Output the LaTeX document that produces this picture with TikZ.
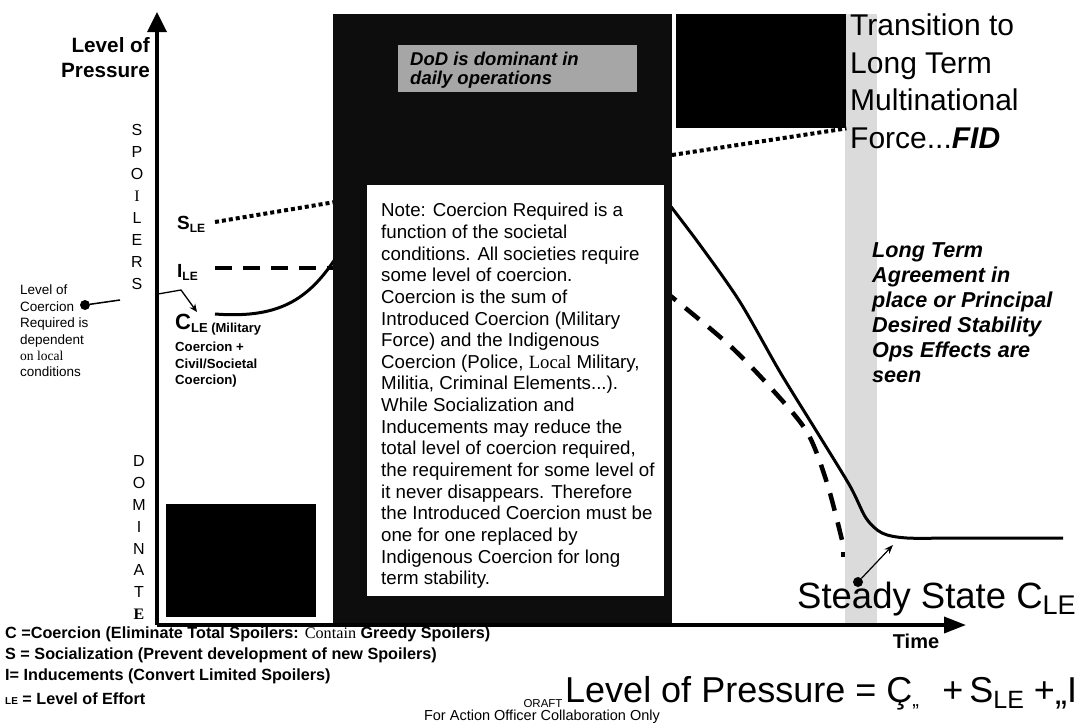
\documentclass[tikz,border=0pt]{standalone}
\usepackage{fontspec}
\setmainfont{Liberation Sans}
\newfontfamily\oldserif{Liberation Serif}
\usetikzlibrary{arrows.meta}
\begin{document}
\begin{tikzpicture}[x=1pt,y=-1pt]
        % Styles
        \tikzstyle{axes}=[line width=3.5pt]
        \tikzstyle{dark block}=[fill=black!95]
        \tikzstyle{coercion line}=[line width=3pt]
        \tikzstyle{inducement line}=[line width=4pt,dash pattern=on 17pt off 11pt]
        \tikzstyle{spoiler line}=[line width=4pt,dash pattern=on 4pt off 3pt]
        \tikzstyle{axis letter}=[inner sep=0pt,font=\fontsize{16}{16}\selectfont]
        \tikzstyle{legend text}=[anchor=west,inner sep=0pt,font=\fontsize{16.2}{16.2}\selectfont\bfseries]
        \tikzstyle{big text}=[inner sep=0pt,font=\fontsize{36.5}{36.5}\selectfont]
        \tikzstyle{marker dot}=[circle,fill=black,inner sep=0pt,minimum size=10pt]
        %The graphic
        \useasboundingbox (0,0) rectangle (1076,726);
        %stability band
        \fill[black!14] (845,14) rectangle (877,625);
        %pressure curves
        \draw[coercion line] (215,314) .. controls (282,319) and (312,298) .. (342,248);
        \draw[coercion line] plot[smooth,tension=0.5] coordinates {(662,195) (700,245) (740,302) (780,372) (817,432) (850,486) (866,518) (882,533) (907,538) (960,538) (1063,538)};
        \draw[line width=4.5pt,dash pattern=on 18pt off 12pt] plot[smooth,tension=0.5] coordinates {(662,289) (727,343) (770,387) (807,432) (827,483) (842,540)};
        \fill (841,552) rectangle (845,557);
        \coordinate (istart) at (215,268);
        \coordinate (iend) at (335,268);
        \draw[inducement line] (istart) -- (iend);
        \coordinate (sstart) at (215,222);
        \coordinate (send) at (335,202);
        \draw[spoiler line] (sstart) -- (send);
        %blocks
        \node[dark block,anchor=north west,inner sep=0pt,minimum width=339pt,minimum height=613pt] (dodzone) at (333,14) {};
        \node[fill=black,anchor=north west,inner sep=0pt,minimum width=170pt,minimum height=114pt] (fidbox) at (676,14) {};
        \node[fill=black,anchor=north west,inner sep=0pt,minimum width=150pt,minimum height=113pt] (dombox) at (166,504) {};
        \coordinate (sright) at (672,155);
        \draw[spoiler line] (sright) -- (fidbox.south east);
        \fill[black!35] (398,45) rectangle (637,92);
        \node[anchor=north west,inner sep=0pt,align=left,font=\fontsize{18.5}{18.5}\selectfont\bfseries\itshape] (dodtext) at (410,52) {DoD is dominant in\\daily operations};
        \fill[white] (367,185) rectangle (664,596);
        \node[anchor=north west,inner sep=0pt,align=left,font=\fontsize{18.7}{21.65}\selectfont] (note) at (381,203)
            {Note:  Coercion Required is a\\function of the societal\\conditions.   All societies require\\some level of coercion.\\Coercion is the sum of\\Introduced Coercion (Military\\Force) and the Indigenous\\Coercion (Police, {\oldserif Local} Military,\\Militia, Criminal Elements...).\\While Socialization and\\Inducements may reduce the\\total level of coercion required,\\the requirement for some level of\\it never disappears.  Therefore\\the Introduced Coercion must be\\one for one replaced by\\Indigenous Coercion for long\\term stability.};
        %axes
        \coordinate (origin) at (157,625);
        \coordinate (y axis) at (157,12);
        \coordinate (x axis) at (966,625);
        \draw[axes,-{Triangle[length=20pt,width=19pt]}] (origin) -- (y axis);
        \draw[axes,-{Triangle[length=22pt,width=16pt]}] (origin) -- (x axis);
        \node[anchor=north east,inner sep=0pt,align=right,font=\fontsize{20.7}{25}\selectfont\bfseries] (ylabel) at (150,37) {Level of\\Pressure};
        \node[font=\fontsize{20}{20}\selectfont\bfseries] (xlabel) at (916,641) {Time};
        \foreach \ch [count=\i] in {S,P,O,{\oldserif I},L,E,R,S}
            \node[axis letter] (sp\i) at (137,108+22*\i) {\ch};
        \foreach \ch [count=\i] in {D,O,M,I,N,A,T,{\oldserif\bfseries E}}
            \node[axis letter] (dom\i) at (139,439+21.9*\i) {\ch};
        %levels of effort
        \node[anchor=base west,inner sep=0pt,font=\fontsize{19}{19}\selectfont\bfseries] (sle) at (177,229) {S\raisebox{-3pt}{\fontsize{12}{12}\selectfont LE}};
        \node[anchor=base west,inner sep=0pt,font=\fontsize{19}{19}\selectfont\bfseries] (ile) at (177,277) {I\raisebox{-3pt}{\fontsize{12}{12}\selectfont LE}};
        \node[anchor=base west,inner sep=0pt,font=\bfseries] (cle) at (175,329) {\fontsize{22}{22}\selectfont C\fontsize{13}{13}\selectfont\raisebox{-3pt}{LE (Military}};
        \node[anchor=north west,inner sep=0pt,align=left,font=\fontsize{13.2}{16.5}\selectfont\bfseries] (clenote) at (175,342) {Coercion +\\Civil/Societal\\Coercion)};
        \coordinate (cpoint) at (158,294);
        \coordinate (ckink) at (181,290);
        \coordinate (ctip) at (197,312);
        \draw[line width=1.3pt,-{Stealth[length=8pt,width=7pt,open]}] (cpoint) -- (ckink) -- (ctip);
        \node[marker dot] (cdot) at (85,305) {};
        \coordinate (cdotend) at (120,300);
        \draw[line width=1.5pt] (cdot) -- (cdotend);
        \node[anchor=north west,inner sep=0pt,align=left,font=\fontsize{13.5}{16.4}\selectfont] (coerlabel) at (20,285) {Level of\\Coercion\\Required is\\dependent\\{\oldserif on local}\\conditions};
        %right side texts
        \node[anchor=north west,inner sep=0pt,align=left,font=\fontsize{30}{37.5}\selectfont] (transition) at (850,14) {Transition to\\Long Term\\Multinational\\Force...\textbf{\textit{FID}}};
        \node[anchor=north west,inner sep=0pt,align=left,font=\fontsize{21.6}{25}\selectfont\bfseries\itshape] (agreement) at (872,242) {Long Term\\Agreement in\\place or Principal\\Desired Stability\\Ops Effects are\\seen};
        \node[marker dot] (ssdot) at (858,582) {};
        \coordinate (sstip) at (893,545);
        \draw[line width=1.2pt,-{Stealth[length=9pt]}] (ssdot) -- (sstip);
        \node[big text,anchor=base west] (steady) at (797,608) {Steady State C\raisebox{-6pt}{\fontsize{27}{27}\selectfont LE}};
        \node[big text,font=\fontsize{36}{36}\selectfont,anchor=base west] (formula) at (565,702) {Level of Pressure = Ç\rlap{\raisebox{-4pt}{\fontsize{20}{20}\selectfont „}}\hspace{30pt}+\,S\raisebox{-6pt}{\fontsize{25}{25}\selectfont LE} +\raisebox{-2pt}{„}I};
        %legend
        \node[legend text] (legc) at (5,634) {C =Coercion (Eliminate Total Spoilers: {\oldserif\mdseries Contain} Greedy Spoilers)};
        \node[legend text] (legs) at (5,655) {S = Socialization (Prevent development of new Spoilers)};
        \node[legend text] (legi) at (5,676) {I= Inducements (Convert Limited Spoilers)};
        \node[legend text] (legle) at (5,699) {{\fontsize{10}{10}\selectfont LE} = Level of Effort};
        \node[font=\fontsize{11.5}{11.5}\selectfont] (draft) at (543,704) {ORAFT};
        \node[font=\fontsize{14.5}{14.5}\selectfont] (footer) at (542,717) {For Action Officer Collaboration Only};
\end{tikzpicture}
\end{document}
